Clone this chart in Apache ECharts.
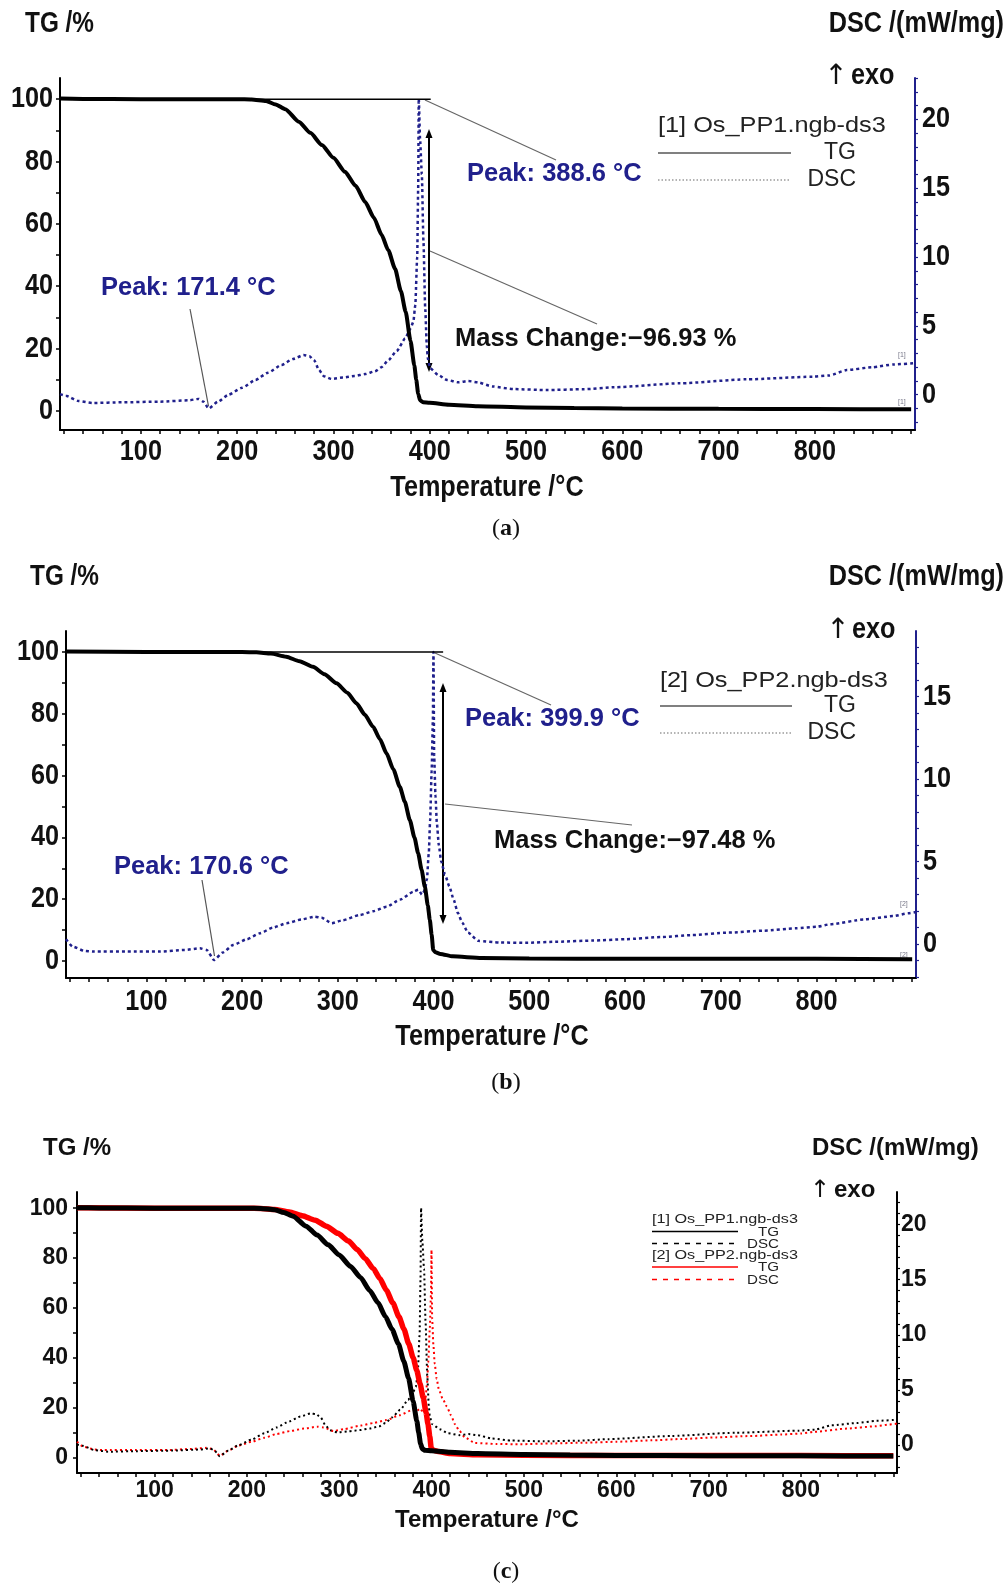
<!DOCTYPE html>
<html><head><meta charset="utf-8">
<script src="https://cdn.jsdelivr.net/npm/echarts@6.0.0/dist/echarts.min.js"></script>
<style>html,body{margin:0;padding:0;background:#fff}#c{width:1008px;height:1587px}</style>
</head><body><div id="c"></div><script>
// ---- data (temperature °C, value) ----
const tgPP1 = [[16,100.2],[40,100.1],[100,100],[150,100],[200,100],[215,99.9],[230,99.4],[240,98.3],[250,96.8],[264,92.8],[276,89.2],[288,85.3],[300,81.2],[312,76.7],[323,72.2],[333,67],[342,62],[350,56.5],[357,51.5],[364,45.6],[370,38.5],[375,31.8],[380,22.5],[384,14.6],[386,10],[388,5.5],[390,3.4],[393,2.8],[400,2.6],[420,2.0],[450,1.5],[500,1.1],[550,0.9],[600,0.75],[700,0.65],[800,0.6],[900,0.5]];
const dscPP1 = [[16,0.05],[22,-0.07],[35,-0.45],[50,-0.6],[80,-0.55],[120,-0.5],[150,-0.4],[160,-0.3],[165,-0.5],[170.5,-1.0],[180,-0.5],[191,0],[205,0.5],[219,1.07],[232,1.6],[246,2.16],[258,2.6],[269,2.88],[275,2.8],[280,2.5],[285,1.8],[290,1.35],[298,1.15],[310,1.25],[322,1.36],[333,1.5],[343,1.7],[350,2.0],[357,2.5],[366,3.2],[374.5,4.09],[380,4.8],[383,5.3],[385,6.5],[387,10],[388,15],[388.6,21.5],[390,18.5],[391.8,16],[393.5,11.1],[395.3,6.3],[397,3.5],[398,2.64],[400.4,1.92],[409,1.43],[418,1.07],[430,0.9],[440,1.0],[450,0.9],[465,0.6],[487,0.41],[521,0.34],[560,0.4],[591,0.54],[660,0.83],[729,1.12],[798,1.31],[815,1.4],[833,1.79],[860,2.0],[882,2.2],[904,2.3]];
const tgPP2 = [[16,100.2],[100,100],[200,100],[215,99.9],[230,99.5],[246,98.5],[260,97],[274,95.2],[286,92.8],[298.6,89.9],[310,86.8],[319.5,83.4],[328,79.8],[336.8,75.8],[344,71.8],[350.8,67.2],[358,62],[364.7,56.4],[370,51.5],[375.2,45.6],[380,40],[383.9,34.9],[387.5,29.5],[390.9,24],[394,18],[396.1,13.3],[398,8.5],[399.6,3.6],[402,2.8],[407,2.3],[420,1.5],[450,1.0],[500,0.8],[600,0.7],[700,0.7],[800,0.7],[900,0.6]];
const dscPP2 = [[16,0.3],[23,-0.15],[35,-0.4],[44,-0.45],[80,-0.45],[114,-0.45],[140,-0.35],[156,-0.25],[163,-0.35],[170.6,-0.96],[180,-0.5],[190.6,-0.05],[205,0.3],[218.6,0.66],[232,1.0],[246.5,1.27],[262,1.5],[276,1.67],[283,1.6],[293.6,1.27],[305,1.45],[323,1.77],[337,2.0],[351,2.27],[365,2.7],[379,3.18],[384,3.3],[388,3.0],[391,3.3],[393,3.9],[395,5.5],[396.4,7.5],[398,10.5],[399.3,13.6],[399.9,17.7],[400.6,11.45],[402,9],[403.4,7.36],[405.5,6],[408,5.0],[412,4.2],[416.5,3.5],[421,2.7],[425.3,1.9],[430,1.3],[436,0.7],[446.6,0.2],[470,0.1],[496,0.08],[530,0.15],[566.8,0.22],[600,0.3],[637.6,0.43],[670,0.55],[708.3,0.7],[745,0.82],[779,0.96],[800,1.05],[814.5,1.21],[850,1.5],[880,1.7],[896,1.87],[904,1.95]];
const baseline1 = [[215,100],[401,100]];
const baseline2 = [[215,100],[410,100]];
const xTickLabels = [100,200,300,400,500,600,700,800];
const tgTickLabels = [0,20,40,60,80,100];
const dscTickLabelsA = [0,5,10,15,20];
const dscTickLabelsB = [0,5,10,15];
const dscTickLabelsC = [0,5,10,15,20];

// ---- styling helpers ----
const SANS = '"Liberation Sans",Arial,sans-serif';
const BLUE = '#20208c';
const range = (a,b,s)=>{const r=[];for(let v=a;v<=b+1e-9;v+=s)r.push(v);return r;};
const xMinor = range(20,900,20);
const tgMinor = range(0,100,10);

function xAxis(g, showLbl, size, margin){
  return {gridIndex:g,type:'value',min:16,max:904,
    axisLine:{show:true,onZero:false,lineStyle:{color:'#000',width:2}},
    axisTick:{show:true,customValues:xMinor,length:4,lineStyle:{color:'#000',width:1.5}},
    axisLabel:{show:showLbl,customValues:xTickLabels,fontFamily:SANS,fontWeight:'bold',fontSize:size,color:'#111',margin:margin},
    splitLine:{show:false}};
}
function yLeft(g,min,max,showLbl,size,margin){
  return {gridIndex:g,type:'value',position:'left',min:min,max:max,
    axisLine:{show:true,onZero:false,lineStyle:{color:'#000',width:2}},
    axisTick:{show:true,customValues:tgMinor,length:4,lineStyle:{color:'#000',width:1.5}},
    axisLabel:{show:showLbl,customValues:tgTickLabels,fontFamily:SANS,fontWeight:'bold',fontSize:size,color:'#111',margin:margin},
    splitLine:{show:false}};
}
function yRight(g,min,max,labels,color,showLbl,size,margin){
  return {gridIndex:g,type:'value',position:'right',min:min,max:max,
    axisLine:{show:true,onZero:false,lineStyle:{color:color,width:2}},
    axisTick:{show:true,customValues:range(Math.ceil(min),Math.floor(max),1),length:3,lineStyle:{color:color,width:1.2}},
    axisLabel:{show:showLbl,customValues:labels,fontFamily:SANS,fontWeight:'bold',fontSize:size,color:'#111',margin:margin},
    splitLine:{show:false}};
}
function ser(data,xi,yi,color,width,dash,z,smooth){
  return {type:'line',data:data,xAxisIndex:xi,yAxisIndex:yi,symbol:'none',showSymbol:false,
    smooth:smooth===undefined?0.2:smooth,smoothMonotone:'x',z:z,silent:true,animation:false,
    lineStyle:{color:color,width:width,type:dash||'solid',cap:'butt'}};
}
function txt(x,y,text,font,fill,align,sx){
  return {type:'text',x:x,y:y,scaleX:sx||1,silent:true,style:{text:text,font:font,fill:fill||'#111',
    textAlign:align||'left',textVerticalAlign:'middle',align:align||'left',verticalAlign:'middle'}};
}
function ln(x1,y1,x2,y2,stroke,w,dash){
  return {type:'line',silent:true,shape:{x1:x1,y1:y1,x2:x2,y2:y2},style:{stroke:stroke,lineWidth:w,lineDash:dash||null}};
}
function dblArrow(x,y1,y2){
  return [ln(x,y1+6,x,y2-6,'#000',2),
    {type:'polygon',silent:true,shape:{points:[[x,y1],[x-3.5,y1+9],[x+3.5,y1+9]]},style:{fill:'#000'}},
    {type:'polygon',silent:true,shape:{points:[[x,y2],[x-3.5,y2-9],[x+3.5,y2-9]]},style:{fill:'#000'}}];
}
function caption(y,letter){
  return {type:'text',x:506,y:y,silent:true,style:{text:'{n|(}{b|'+letter+'}{n|)}',
    textAlign:'center',textVerticalAlign:'middle',align:'center',verticalAlign:'middle',
    rich:{n:{font:'24px "Liberation Serif",serif',fill:'#111'},b:{font:'bold 24px "Liberation Serif",serif',fill:'#111'}}}};
}

const fA = 'bold 29px '+SANS, SX = 0.87;
const fLeg = '22px '+SANS;
const fLeg2 = '23px '+SANS;
const fAnn = 'bold 25px '+SANS;
const fC = 'bold 24px '+SANS;
const fLegC = '13.5px '+SANS;
const fArrow = '28px "DejaVu Sans",sans-serif';

const graphics = [
  // ---- panel (a) ----
  txt(25,24,'TG /%',fA,'#111','left',0.84), txt(1004,24,'DSC /(mW/mg)',fA,'#111','right',SX),
  txt(836,77,'↑',fArrow,'#111','center'), txt(851,76,'exo',fA,'#111','left',SX),
  txt(487,488,'Temperature /°C',fA,'#111','center',SX),
  txt(658,126,'[1] Os_PP1.ngb-ds3',fLeg,'#222','left',1.15),
  ln(658,153,791,153,'#808080',2), txt(856,153,'TG',fLeg2,'#222','right'),
  ln(658,180,791,180,'#9a9a9a',1.5,[1.5,2]), txt(856,180,'DSC',fLeg2,'#222','right'),
  txt(467,174,'Peak: 388.6 °C',fAnn,BLUE,'left',1.02),
  ln(425,100,556,160,'#666',1.2),
  ...dblArrow(429,129,372),
  ln(430,251,597,324,'#666',1.2),
  txt(455,339,'Mass Change:−96.93 %',fAnn,'#111','left',1.02),
  txt(101,288,'Peak: 171.4 °C',fAnn,BLUE,'left',1.02),
  ln(190,309,208.5,406,'#555',1.2),
  txt(898,355,'[1]',"7px "+SANS,'#778'), txt(898,402,'[1]',"7px "+SANS,'#778'),
  caption(529,'a'),
  // ---- panel (b) ----
  txt(30,577,'TG /%',fA,'#111','left',0.84), txt(1004,577,'DSC /(mW/mg)',fA,'#111','right',SX),
  txt(838,631,'↑',fArrow,'#111','center'), txt(852,630,'exo',fA,'#111','left',SX),
  txt(492,1037,'Temperature /°C',fA,'#111','center',SX),
  txt(660,681,'[2] Os_PP2.ngb-ds3',fLeg,'#222','left',1.15),
  ln(660,706,792,706,'#808080',2), txt(856,706,'TG',fLeg2,'#222','right'),
  ln(660,733,792,733,'#9a9a9a',1.5,[1.5,2]), txt(856,733,'DSC',fLeg2,'#222','right'),
  txt(465,719,'Peak: 399.9 °C',fAnn,BLUE,'left',1.02),
  ln(435,653,551,705,'#666',1.2),
  ...dblArrow(443,683,924),
  ln(445,804,632,825,'#666',1.2),
  txt(494,841,'Mass Change:−97.48 %',fAnn,'#111','left',1.02),
  txt(114,867,'Peak: 170.6 °C',fAnn,BLUE,'left',1.02),
  ln(202,880,214.5,956,'#555',1.2),
  txt(900,904,'[2]',"7px "+SANS,'#778'), txt(900,955,'[2]',"7px "+SANS,'#778'),
  caption(1083,'b'),
  // ---- panel (c) ----
  txt(43,1148,'TG /%',fC), txt(812,1148,'DSC /(mW/mg)',fC),
  txt(820,1191,'↑',"24px \"DejaVu Sans\",sans-serif",'#111','center'), txt(834,1190,'exo',fC),
  txt(487,1520,'Temperature /°C',fC,'#111','center'),
  txt(652,1219,'[1] Os_PP1.ngb-ds3',fLegC,'#222','left',1.2),
  ln(652,1231.5,738,1231.5,'#000',1.5), txt(779,1232,'TG',fLegC,'#222','right',1.12),
  ln(652,1243.5,738,1243.5,'#000',1.5,[5,6]), txt(779,1244,'DSC',fLegC,'#222','right',1.12),
  txt(652,1255,'[2] Os_PP2.ngb-ds3',fLegC,'#222','left',1.2),
  ln(652,1267,738,1267,'#ff0000',1.5), txt(779,1267,'TG',fLegC,'#222','right',1.12),
  ln(652,1279.5,738,1279.5,'#ff0000',1.5,[5,6]), txt(779,1280,'DSC',fLegC,'#222','right',1.12),
  caption(1572,'c')
];

const option = {
  backgroundColor:'#fff',
  animation:false,
  grid:[
    {left:60,top:78,width:855,height:352},
    {left:66,top:631,width:850,height:347},
    {left:77,top:1192,width:820,height:281}
  ],
  xAxis:[xAxis(0,false,29,9), xAxis(1,false,29,9), xAxis(2,true,23,6)],
  yAxis:[
    yLeft(0,-6.13,106.8,false,29,7), yRight(0,-2.56,23.0,dscTickLabelsA,BLUE,false,29,6),
    yLeft(1,-5.5,106.8,false,29,7), yRight(1,-2.05,18.98,dscTickLabelsB,BLUE,false,29,6),
    yLeft(2,-6.3,106.5,true,23,9), yRight(2,-2.53,22.95,dscTickLabelsC,'#000',true,23,4)
  ],
  series:[
    ser(dscPP1,0,1,BLUE,2.5,[3,3],2),
    ser(baseline1,0,0,'#000',1.5,'solid',3,false),
    ser(tgPP1,0,0,'#000',4,'solid',4),
    ser(dscPP2,1,3,BLUE,2.5,[3,3],2),
    ser(baseline2,1,2,'#000',1.5,'solid',3,false),
    ser(tgPP2,1,2,'#000',4,'solid',4),
    ser(dscPP2,2,5,'#ff0000',2,[2,3],2),
    ser(dscPP1,2,5,'#000',2,[2,3],3),
    ser(tgPP2,2,4,'#ff0000',5.5,'solid',4),
    ser(tgPP1,2,4,'#000',5,'solid',5)
  ],
  graphic:graphics
};
const chart = echarts.init(document.getElementById('c'),null,{renderer:'canvas'});
chart.setOption(option);

// tick labels for panels (a),(b): placed at the library's own axis positions, drawn with a condensed scale
const tickTexts = [];
function xLabels(xi, yPix){
  xTickLabels.forEach(v=>{
    const px = chart.convertToPixel({xAxisIndex:xi}, v);
    tickTexts.push(txt(px,yPix,String(v),fA,'#111','center',SX));
  });
}
function yLabels(yi, vals, xPix, align){
  vals.forEach(v=>{
    const py = chart.convertToPixel({yAxisIndex:yi}, v);
    tickTexts.push(txt(xPix,py,String(v),fA,'#111',align,SX));
  });
}
xLabels(0,452); xLabels(1,1002);
yLabels(0,tgTickLabels,53,'right'); yLabels(1,dscTickLabelsA,922,'left');
yLabels(2,tgTickLabels,59,'right'); yLabels(3,dscTickLabelsB,923,'left');
chart.setOption({graphic:graphics.concat(tickTexts)});
</script></body></html>
